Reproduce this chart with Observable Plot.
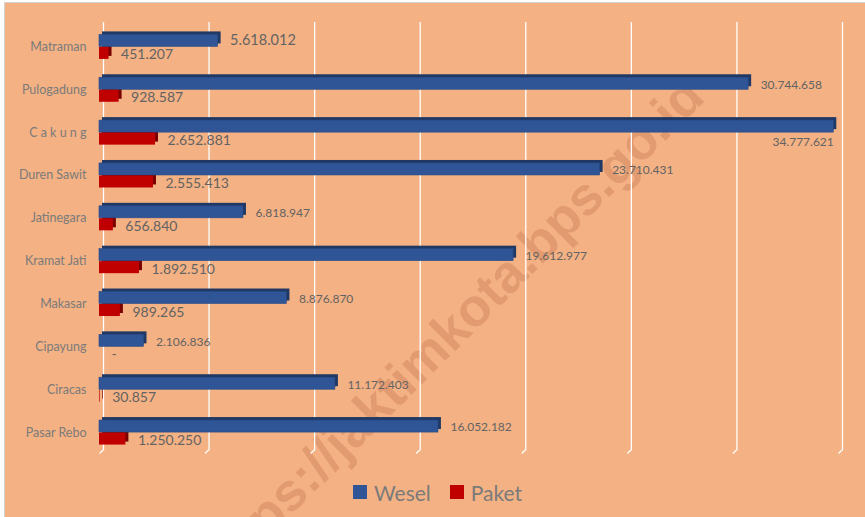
<!DOCTYPE html>
<html>
<head>
<meta charset="utf-8">
<script src="https://cdn.jsdelivr.net/npm/d3@7"></script>
<script src="https://cdn.jsdelivr.net/npm/@observablehq/plot@0.6"></script>
<style>
  html, body { margin: 0; padding: 0; background: #ffffff; overflow: hidden; }
  #frame { position: absolute; left: 4px; top: 2px; width: 880px; height: 530px;
           background: #F4B183; border: 1px solid #D3D3D3; }
  #watermark { position: absolute; left: 450px; top: 330px; transform: translate(-50%, -50%) rotate(-45deg);
               font: bold 53px "Liberation Sans", Arial, sans-serif; color: #E29B70; white-space: nowrap; }
  #chart { position: absolute; left: 0; top: 0; }
  #legend { position: absolute; left: 353px; top: 481px; height: 22px; display: flex; align-items: center;
            font: 21px Lato, sans-serif; color: #7b7b7b; }
  .sw { width: 14px; height: 14px; display: inline-block; margin-right: 7px; }
  .item { display: flex; align-items: center; margin-right: 19px; }
</style>
</head>
<body>
<div id="frame"></div>
<div id="watermark">https://jaktimkota.bps.go.id</div>
<div id="chart"></div>
<div id="legend"></div>
<script>
const categories = ["Matraman", "Pulogadung", "C a k u n g", "Duren Sawit", "Jatinegara",
                    "Kramat Jati", "Makasar", "Cipayung", "Ciracas", "Pasar Rebo"];
const wesel = [5618012, 30744658, 34777621, 23710431, 6818947, 19612977, 8876870, 2106836, 11172403, 16052182];
const paket = [451207, 928587, 2652881, 2555413, 656840, 1892510, 989265, 0, 30857, 1250250];
const xTicks = [0, 5e6, 10e6, 15e6, 20e6, 25e6, 30e6, 35e6];
const seriesNames = ["Wesel", "Paket"];
const seriesColors = ["#2F5597", "#C00000"];

const fmtNum = d3.formatLocale({decimal: ",", thousands: ".", grouping: [3], currency: ["", ""]}).format(",d");
const lab = v => v === 0 ? "-" : fmtNum(v);

const rows = categories.map((c, i) => ({cat: c, wesel: wesel[i], paket: paket[i], i}));

const half = 21.425;
const blueIn = {insetTop: half - 12, insetBottom: half};
const redIn = {insetTop: half + 0.5, insetBottom: half - 12.5};

const hooks = (index, scales, values, dims) => {
  const g = d3.create("svg:g");
  const yb = dims.height - dims.marginBottom;
  for (const t of xTicks) {
    const px = scales.x(t);
    g.append("path")
      .attr("d", `M${px + 4},${yb - 3.5}L${px + 0.5},${yb}`)
      .attr("stroke", "#ffffff").attr("stroke-width", 1.3).attr("fill", "none");
  }
  return g.node();
};

const chart = Plot.plot({
  width: 865,
  height: 470,
  marginLeft: 99,
  marginRight: 27,
  marginTop: 25,
  marginBottom: 16.5,
  style: {background: "transparent", fontFamily: "Lato, sans-serif", color: "#7b7b7b", overflow: "visible"},
  x: {domain: [0, 35e6], axis: null},
  y: {domain: categories, padding: 0, round: false, label: null},
  marks: [
    Plot.ruleX(xTicks, {stroke: "#ffffff", strokeWidth: 1.3, dx: 4, dy: -3}),
    hooks,
    Plot.barX(rows, {x: "paket", y: "cat", fill: "#7A0000", dx: 3, dy: -3, ...redIn}),
    Plot.barX(rows, {x: "wesel", y: "cat", fill: "#1F3864", dx: 3, dy: -3, ...blueIn}),
    Plot.barX(rows, {x: "wesel", y: "cat", fill: seriesColors[0], stroke: "#2A4B85", strokeWidth: 0.6, ...blueIn}),
    Plot.barX(rows, {x: "paket", y: "cat", fill: seriesColors[1], ...redIn}),
    Plot.axisY({tickSize: 0, tickPadding: 13, fontSize: 12.5, label: null, fill: "#7b7b7b"}),
    // Wesel labels
    Plot.text(rows.filter(d => d.i === 0), {x: "wesel", y: "cat", text: d => lab(d.wesel), dx: 12, dy: -6.5,
      textAnchor: "start", fontSize: 14.5, fill: "#636363"}),
    Plot.text(rows.filter(d => d.i !== 0 && d.wesel < 34e6), {x: "wesel", y: "cat", text: d => lab(d.wesel), dx: 12, dy: -5,
      textAnchor: "start", fontSize: 12, fill: "#636363"}),
    Plot.text(rows.filter(d => d.wesel >= 34e6), {x: "wesel", y: "cat", text: d => lab(d.wesel), dx: 0, dy: 10,
      textAnchor: "end", fontSize: 12, fill: "#636363"}),
    // Paket labels
    Plot.text(rows, {x: "paket", y: "cat", text: d => lab(d.paket), dx: 12, dy: 8,
      textAnchor: "start", fontSize: 14, fill: "#636363"})
  ]
});
document.getElementById("chart").appendChild(chart);

const legend = document.getElementById("legend");
seriesNames.forEach((n, i) => {
  const it = document.createElement("span");
  it.className = "item";
  it.innerHTML = `<span class="sw" style="background:${seriesColors[i]}"></span><span>${n}</span>`;
  legend.appendChild(it);
});
</script>
</body>
</html>
